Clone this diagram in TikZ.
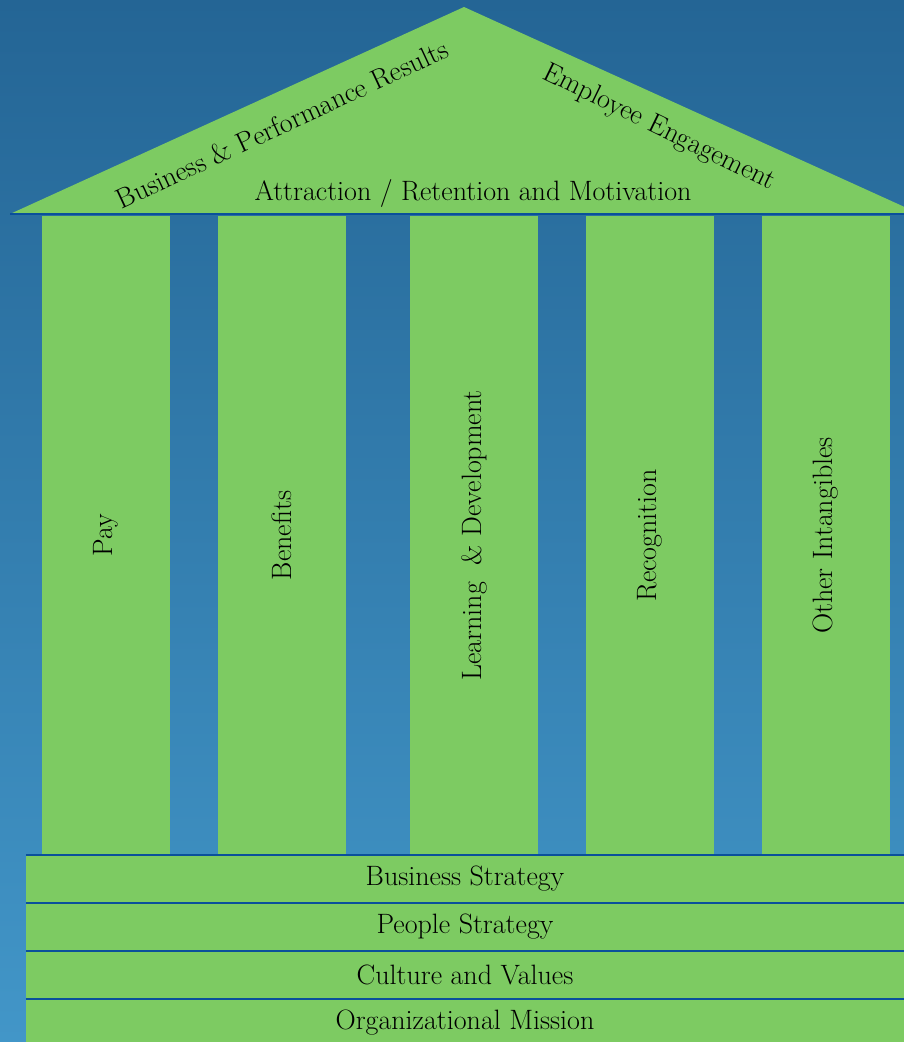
\documentclass[tikz,border=0pt]{standalone}
\usepackage{tikz}
\usepackage{color}

\definecolor{pillargreen}{RGB}{125,203,98}
\definecolor{skytop}{RGB}{36,101,149}
\definecolor{skybottom}{RGB}{66,150,200}
\definecolor{edgeblue}{RGB}{10,80,155}

\tikzset{
    pillar/.style={fill=pillargreen, rectangle, rotate=90, inner sep=0pt,
        minimum width=639pt, minimum height=128pt},
    slab/.style={fill=pillargreen, rectangle, inner sep=0pt,
        minimum width=878pt, minimum height=48pt},
    words/.style={font=\fontsize{28}{32}\selectfont, text=black}
}

\begin{document}
\begin{tikzpicture}[x=1pt, y=-1pt]
            % Sky behind the temple, lighter towards the ground.
            \fill[top color=skytop, bottom color=skybottom] (0,0) rectangle (904,1042);
            \useasboundingbox (0,0) rectangle (904,1042);

            % The roof: a flat triangle with a blue line under it.
            \fill[pillargreen] (10,214) -- (464,7) -- (920,214) -- cycle;
            \coordinate (eaveL) at (10,214);
            \coordinate (eaveR) at (904,214);
            \draw[edgeblue, line width=2pt] (eaveL) -- (eaveR);
            \node[words, rotate=25] (results) at (282,124) {Business \& Performance Results};
            \node[words, rotate=-26] (engage) at (659,128) {Employee Engagement};
            \node[words] (attract) at (473,193) {Attraction / Retention and Motivation};

            % Five pillars between the roof and the steps.
            \foreach \x/\name/\txt in {106/pay/Pay, 282/benefits/Benefits,
                    474/learning/{Learning \ \& Development}, 650/recognition/Recognition,
                    826/other/Other Intangibles} {
                \node[pillar, words] (\name) at (\x,535.5) {\txt};
            }

            % Four steps at the bottom, each with a blue line on top.
            \foreach \i/\txt in {0/Business Strategy, 1/People Strategy,
                    2/Culture and Values, 3/Organizational Mission} {
                \node[slab, words] (step\i) at (465,879+48*\i) {\txt};
                \draw[edgeblue, line width=2pt] (step\i.north west) -- (step\i.north east);
            }
        \end{tikzpicture}
\end{document}
